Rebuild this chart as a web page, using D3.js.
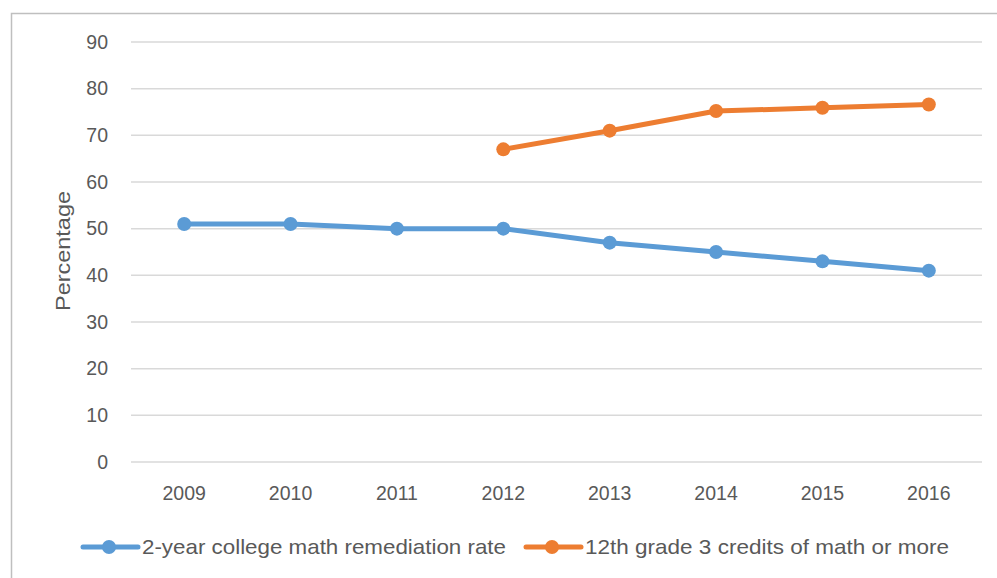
<!DOCTYPE html>
<html lang="en">
<head>
    <meta charset="UTF-8">
    <title>Math remediation chart</title>
    <style>
        body { margin: 0; background: #fff; }
        text { font-family: "Liberation Sans", Arial, sans-serif; fill: #595959; }
    </style>
</head>
<body>
    <svg id="chart" width="997" height="578"></svg>
    <script src="https://d3js.org/d3.v7.min.js"></script>
    <script>
        // data
        var years = ["2009", "2010", "2011", "2012", "2013", "2014", "2015", "2016"]
        var remediation = [51, 51, 50, 50, 47, 45, 43, 41]
        var credits = [null, null, null, 67, 71, 75.2, 75.9, 76.6]
        var yTicks = [0, 10, 20, 30, 40, 50, 60, 70, 80, 90]
        var seriesNames = ["2-year college math remediation rate", "12th grade 3 credits of math or more"]
        var seriesColors = ["#5b9bd5", "#ed7d31"]

        var svg = d3.select("#chart")

        // outer frame (right and bottom run off the picture)
        svg.append("rect")
            .attr("x", 11.5).attr("y", 13.5)
            .attr("width", 1000).attr("height", 600)
            .attr("fill", "none").attr("stroke", "#bfbfbf").attr("stroke-width", 1.5)

        var x = d3.scaleBand().domain(years).range([131, 982])
        var y = d3.scaleLinear().domain([0, 90]).range([462, 42])

        // gridlines
        svg.selectAll("grid")
            .data(yTicks)
            .enter()
            .append("line")
            .attr("x1", 131).attr("x2", 982)
            .attr("y1", function (d) { return y(d) }).attr("y2", function (d) { return y(d) })
            .attr("stroke", "#d9d9d9").attr("stroke-width", 1.5)

        // y tick labels
        svg.selectAll("ylab")
            .data(yTicks)
            .enter()
            .append("text")
            .attr("x", 108)
            .attr("y", function (d) { return y(d) })
            .attr("dy", "0.35em")
            .attr("text-anchor", "end")
            .style("font-size", "19.5px")
            .text(function (d) { return d })

        // x tick labels
        svg.selectAll("xlab")
            .data(years)
            .enter()
            .append("text")
            .attr("x", function (d) { return x(d) + x.bandwidth() / 2 })
            .attr("y", 493)
            .attr("dy", "0.35em")
            .attr("text-anchor", "middle")
            .style("font-size", "19.5px")
            .text(function (d) { return d })

        // axis title
        svg.append("text")
            .attr("transform", "translate(63,251) rotate(-90)")
            .attr("dy", "0.35em")
            .attr("text-anchor", "middle")
            .attr("textLength", 120)
            .attr("lengthAdjust", "spacingAndGlyphs")
            .style("font-size", "21px")
            .text("Percentage")

        var series = [remediation, credits]
        var line = d3.line()
            .defined(function (d) { return d.v != null })
            .x(function (d) { return x(d.yr) + x.bandwidth() / 2 })
            .y(function (d) { return y(d.v) })

        series.forEach(function (vals, i) {
            var pts = vals.map(function (v, j) { return { yr: years[j], v: v } })
            svg.append("path")
                .datum(pts)
                .attr("d", line)
                .attr("fill", "none")
                .attr("stroke", seriesColors[i])
                .attr("stroke-width", 5)
                .attr("stroke-linejoin", "round")
            svg.selectAll("dots" + i)
                .data(pts.filter(function (d) { return d.v != null }))
                .enter()
                .append("circle")
                .attr("cx", function (d) { return x(d.yr) + x.bandwidth() / 2 })
                .attr("cy", function (d) { return y(d.v) })
                .attr("r", 7)
                .attr("fill", seriesColors[i])
        })

        // legend
        var legendX = [83, 526]
        var legend = svg.selectAll("legend")
            .data(seriesNames)
            .enter()
            .append("g")
            .attr("transform", function (d, i) { return "translate(" + legendX[i] + ",547)" })
        legend.append("line")
            .attr("x1", 0).attr("x2", 55)
            .attr("stroke", function (d, i) { return seriesColors[i] })
            .attr("stroke-width", 5)
            .attr("stroke-linecap", "round")
        legend.append("circle")
            .attr("cx", 26).attr("r", 7)
            .attr("fill", function (d, i) { return seriesColors[i] })
        legend.append("text")
            .attr("x", 59)
            .attr("dy", "0.35em")
            .attr("textLength", 364)
            .attr("lengthAdjust", "spacingAndGlyphs")
            .style("font-size", "21px")
            .text(function (d) { return d })
    </script>
</body>
</html>
